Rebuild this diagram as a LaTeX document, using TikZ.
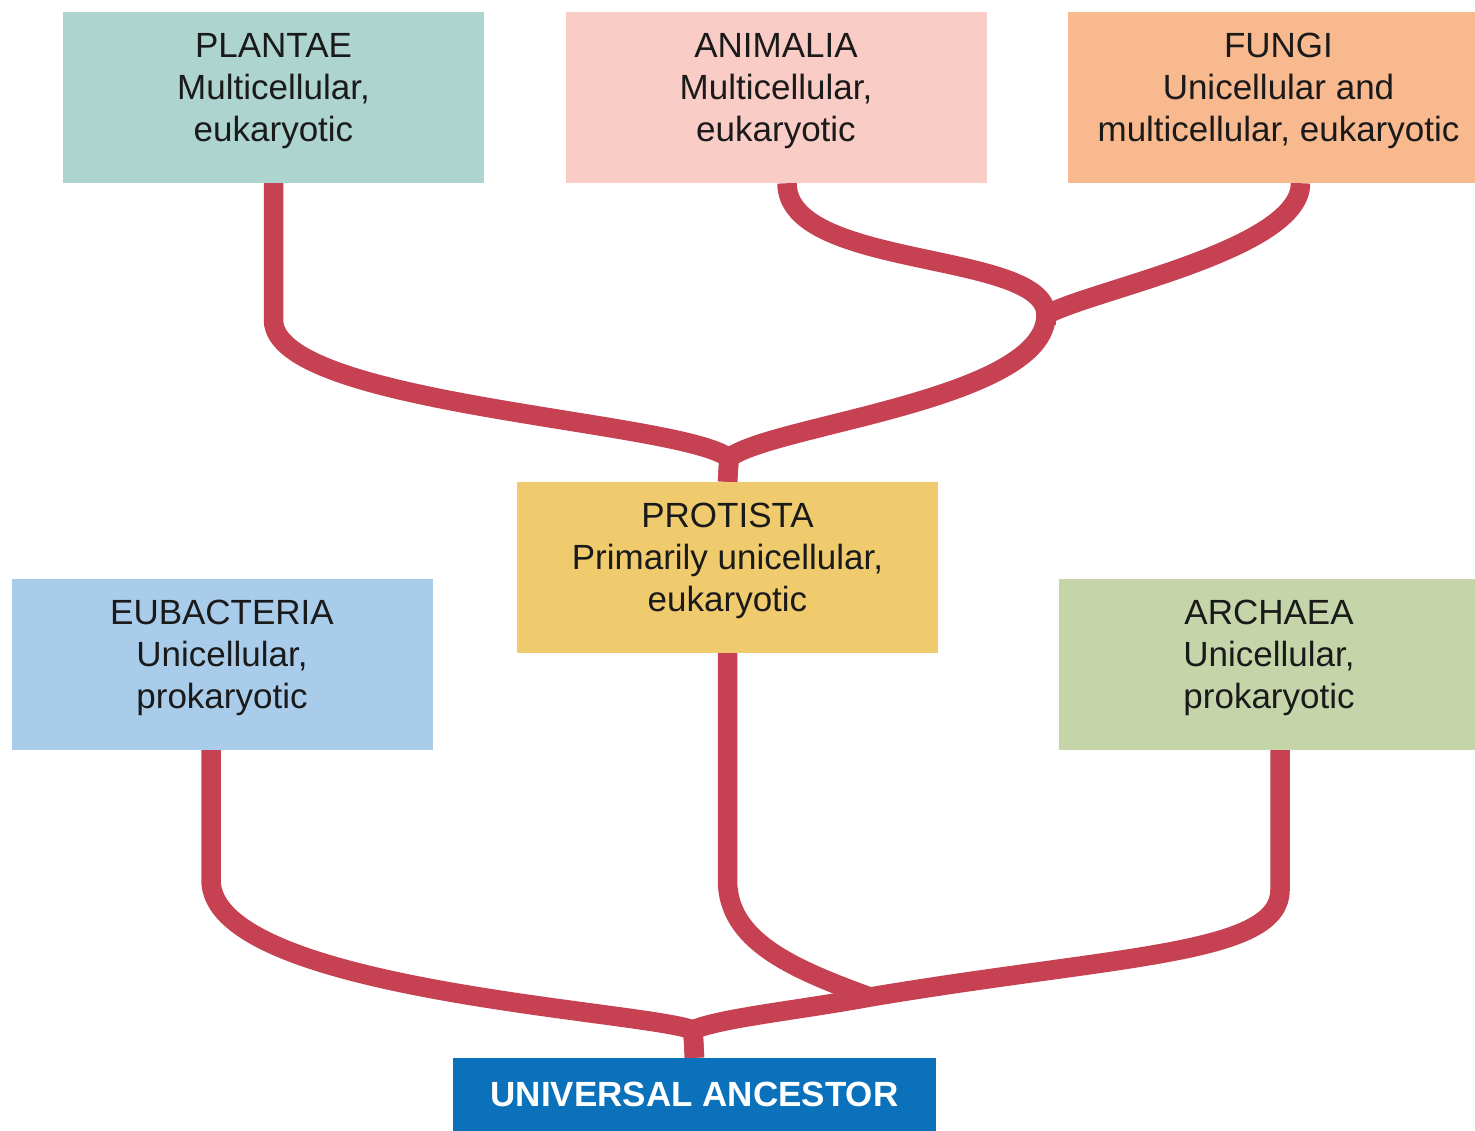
\documentclass[tikz,border=0pt]{standalone}
\usepackage{fontspec}
\setmainfont{Liberation Sans}
\usetikzlibrary{backgrounds}
\definecolor{plantcol}{HTML}{AED4D0}
\definecolor{animcol}{HTML}{F9CCC6}
\definecolor{fungcol}{HTML}{F9B98F}
\definecolor{protcol}{HTML}{F0CB6E}
\definecolor{eubcol}{HTML}{A9CCEB}
\definecolor{archcol}{HTML}{C5D5A9}
\definecolor{ancestcol}{HTML}{0B71BA}
\definecolor{branchcol}{HTML}{C64253}
\definecolor{txtcol}{HTML}{1A1A1A}
\tikzset{
  kbox/.style={minimum width=421pt, minimum height=171pt, inner sep=0pt, align=center,
    font=\fontsize{35}{42}\selectfont, text=txtcol},
  ancbox/.style={minimum width=483pt, minimum height=73pt, inner sep=0pt,
    font=\fontsize{35}{42}\selectfont\bfseries, text=white, fill=ancestcol},
  br/.style={draw=branchcol, line width=19.5pt, line join=round},
}
\newcommand{\dstrut}{\rule[-20pt]{0pt}{20pt}}
\begin{document}
\begin{tikzpicture}[x=1pt,y=-1pt]
\useasboundingbox (0,0) rectangle (1475,1130);
% kingdoms
\node[kbox, fill=plantcol] (plantae) at (273.5,97.5) {PLANTAE\\Multicellular,\\eukaryotic\dstrut};
\node[kbox, fill=animcol] (animalia) at (776,97.5) {ANIMALIA\\Multicellular,\\eukaryotic\dstrut};
\node[kbox, fill=fungcol] (fungi) at (1278.5,97.5) {FUNGI\\Unicellular and\\multicellular, eukaryotic\dstrut};
\node[kbox, fill=protcol] (protista) at (727.5,567.5) {PROTISTA\\Primarily unicellular,\\eukaryotic\dstrut};
\node[kbox, fill=eubcol] (eubacteria) at (222,664.5) {EUBACTERIA\\Unicellular,\\prokaryotic\dstrut};
\node[kbox, fill=archcol] (archaea) at (1269,664.5) {ARCHAEA\\Unicellular,\\prokaryotic\dstrut};
\node[ancbox] (ancestor) at (694.5,1094.5) {UNIVERSAL ANCESTOR};
% junctions
\coordinate (j1) at (1046,315);
\coordinate (j2) at (729,458);
\coordinate (j3) at (870,997);
\coordinate (j4) at (693,1030);
\begin{scope}[on background layer]
\fill[white] (0,0) rectangle (1475,1130);
% plantae
\draw[br] (plantae.south) -- (273.5,320) .. controls (273.5,405) and (680,420) .. (j2) -- (protista.north);
% animalia -> j1 -> protista
\draw[br] ([xshift=11pt]animalia.south) .. controls (787,270) and (1046,250) .. (j1)
  .. controls (1046,400) and (770,425) .. (j2) -- (protista.north);
% fungi
\draw[br] ([xshift=22pt]fungi.south) .. controls (1301,250) and (1090,290) .. (j1) -- (1046,325);
% protista -> j3
\draw[br] (protista.south) -- (727.5,880) .. controls (727.5,940) and (790,968) .. (j3);
% archaea
\draw[br] ([xshift=11pt]archaea.south) -- (1280,890) .. controls (1280,955) and (1120,955) .. (j3)
  .. controls (800,1010) and (720,1018) .. (j4) -- (ancestor.north);
% eubacteria
\draw[br] ([xshift=-11pt]eubacteria.south) -- (211,880) .. controls (211,990) and (640,1010) .. (j4) -- (ancestor.north);
\end{scope}
\end{tikzpicture}
\end{document}
